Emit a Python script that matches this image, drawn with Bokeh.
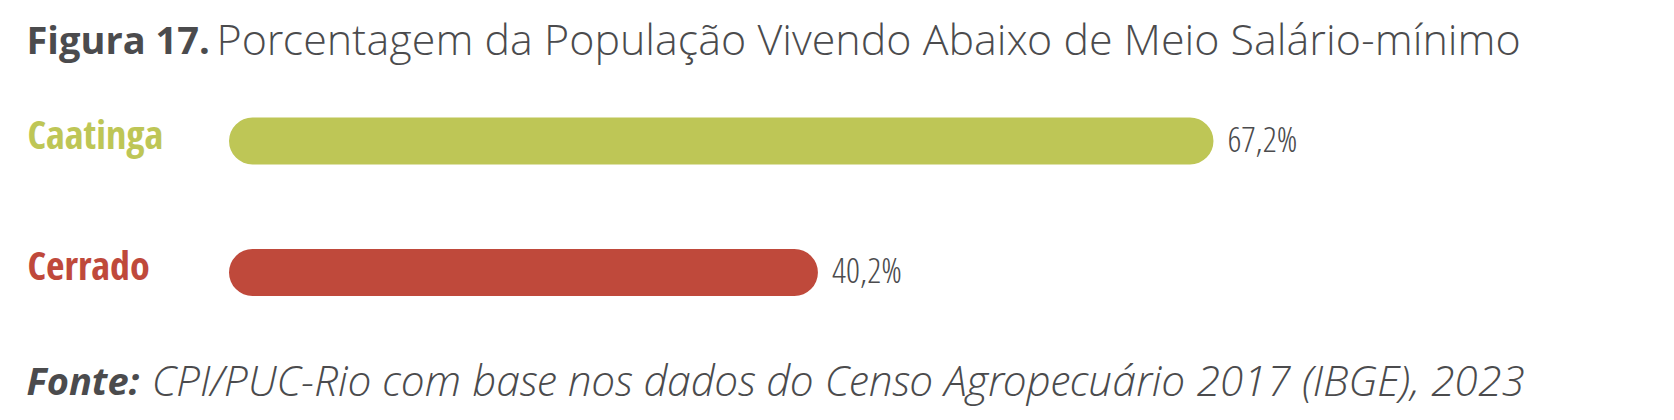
from bokeh.plotting import figure
from bokeh.models import Range1d, ColumnDataSource, Label
from bokeh.core.properties import value
from bokeh.embed import file_html
from bokeh.resources import INLINE

# ---- data ----
categories = ["Caatinga", "Cerrado"]
values = [67.2, 40.2]
value_labels = ["67,2%", "40,2%"]
colors = ["#BEC656", "#BF493B"]
title_bold = "Figura 17."
title_rest = "Porcentagem da População Vivendo Abaixo de Meio Salário-mínimo"
source_bold = "Fonte:"
source_rest = "CPI/PUC-Rio com base nos dados do Censo Agropecuário 2017 (IBGE), 2023"

# ---- layout ----
W, H = 1674, 420
px_per_unit = 14.65
x0_px = 228.5
x_start = -x0_px / px_per_unit
x_end = x_start + W / px_per_unit
row_px = 131.5
y_bottom_px = 148.0
y_start = -y_bottom_px / row_px
y_end = y_start + H / row_px
bar_px = 47

TEXT = "#4B4B4D"

ys = list(range(len(categories) - 1, -1, -1))
src = ColumnDataSource(dict(cat=categories, v=values, lab=value_labels,
                            color=colors, y=ys,
                            xs=[x_start] * len(categories)))

p = figure(width=W, height=H, output_backend="svg", toolbar_location=None,
           x_range=Range1d(x_start, x_end), y_range=Range1d(y_start, y_end),
           min_border=0, background_fill_color="white",
           border_fill_color="white")
p.axis.visible = False
p.grid.visible = False
p.outline_line_color = None

p.hbar(y="y", left=0, right="v", height=bar_px / row_px, fill_color="color",
       line_color=None, border_radius=24, source=src)

# category labels
p.text(x="xs", y="y", text="cat", x_offset=27, y_offset=-8,
       text_color="color", text_font=value("Open Sans Condensed"),
       text_font_style="bold", text_font_size="40px",
       text_baseline="alphabetic", text_align="left", source=src)

# value labels
p.text(x="v", y="y", text="lab", x_offset=14, y_offset=-3,
       text_color=TEXT, text_font=value("Open Sans Condensed Light"),
       text_font_size="35px", text_baseline="alphabetic", text_align="left",
       source=src)

# title
p.add_layout(Label(x=26, y=H - 38, x_units="screen", y_units="screen",
                   text=title_bold, text_font="Open Sans", text_font_style="bold",
                   text_font_size="38px", text_color=TEXT,
                   text_baseline="alphabetic"))
p.add_layout(Label(x=216, y=H - 38, x_units="screen", y_units="screen",
                   text=title_rest, text_font="Open Sans Light",
                   text_font_style="normal", text_font_size="43px",
                   text_color=TEXT, text_baseline="alphabetic"))
# source
p.add_layout(Label(x=26, y=H - 379, x_units="screen", y_units="screen",
                   text=source_bold, text_font="Open Sans",
                   text_font_style="bold italic", text_font_size="38px",
                   text_color=TEXT, text_baseline="alphabetic"))
p.add_layout(Label(x=151, y=H - 379, x_units="screen", y_units="screen",
                   text=source_rest, text_font="Open Sans Light",
                   text_font_style="italic", text_font_size="42.8px",
                   text_color=TEXT, text_baseline="alphabetic"))

open("out.html", "w").write(file_html(p, INLINE))
